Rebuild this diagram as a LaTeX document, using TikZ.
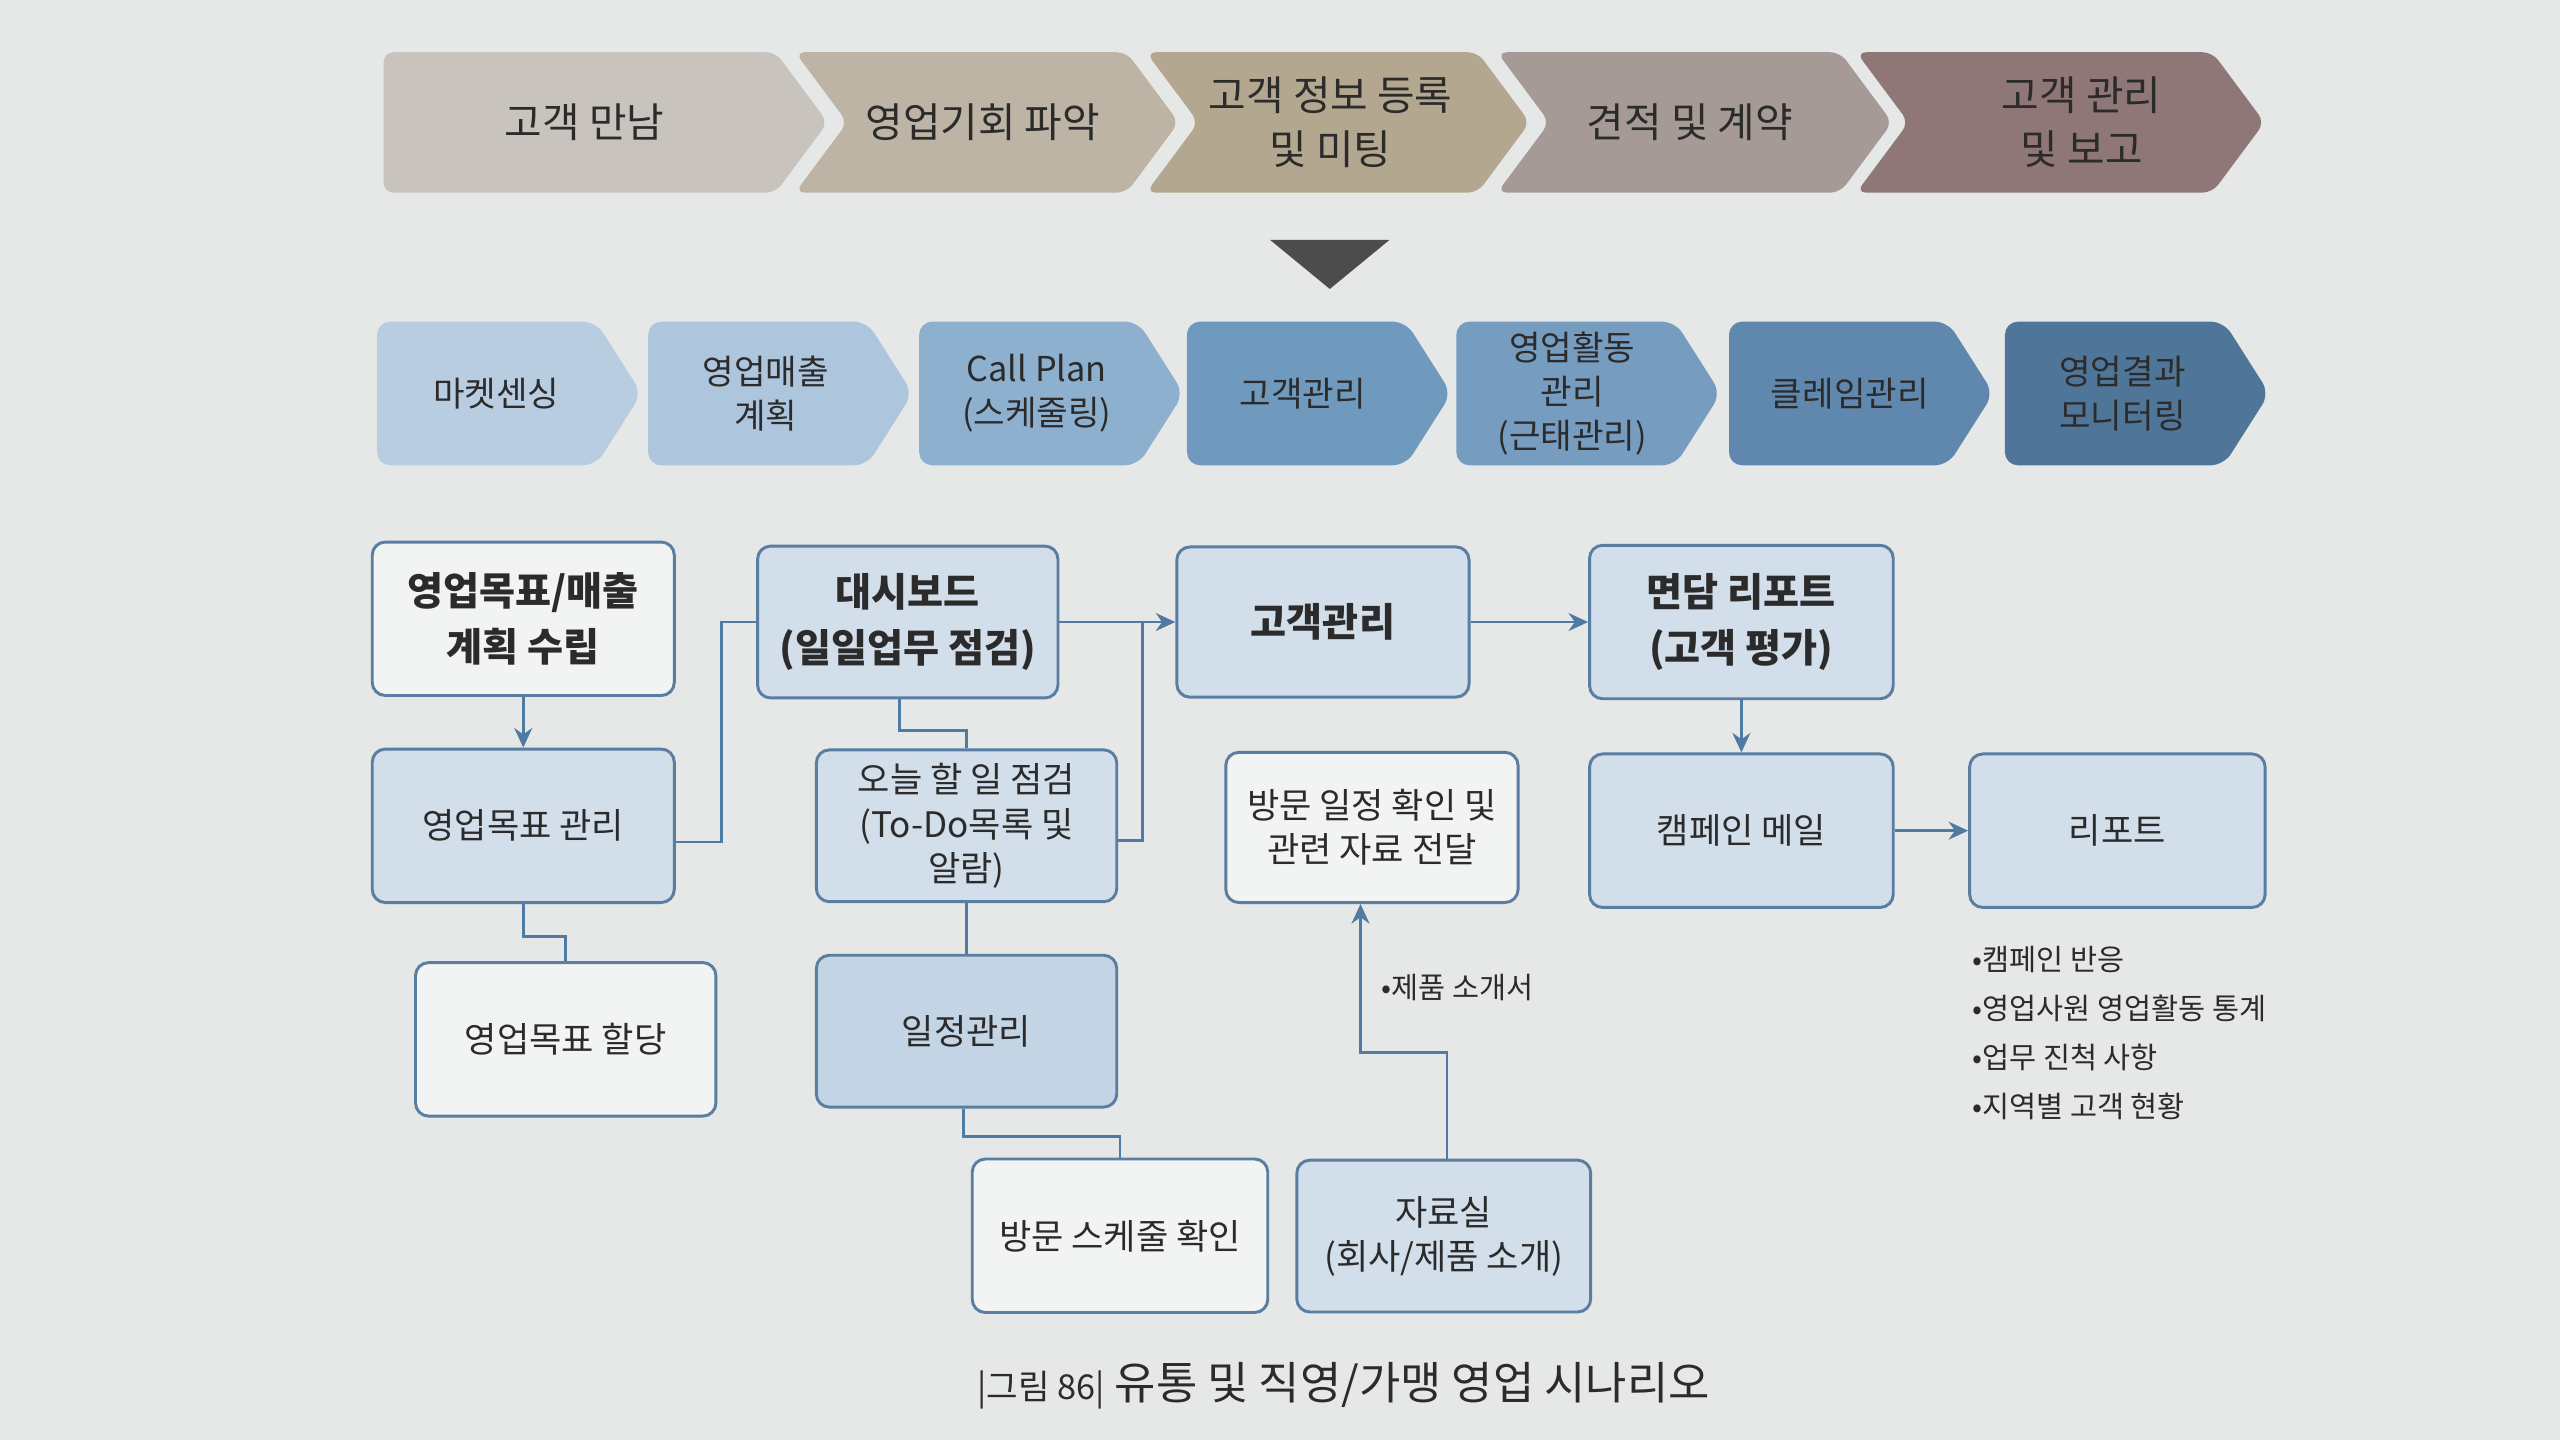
\documentclass[tikz,border=0pt]{standalone}
\usepackage{fontspec}
\setmainfont{Noto Sans CJK KR}
\usetikzlibrary{positioning,arrows.meta}

\definecolor{bgpage}{HTML}{E6E7E7}
\definecolor{ink}{HTML}{2B2B2B}
\definecolor{lineblue}{HTML}{4F7AA3}
\definecolor{boxborder}{HTML}{5A7EA1}
\definecolor{boxfill}{HTML}{D2DEEA}
\definecolor{boxfilldark}{HTML}{C3D4E5}
\definecolor{boxwhite}{HTML}{F2F3F3}
\definecolor{stageA}{HTML}{C8C3BC}
\definecolor{stageB}{HTML}{BEB4A5}
\definecolor{stageC}{HTML}{B3A78F}
\definecolor{stageD}{HTML}{A59A95}
\definecolor{stageE}{HTML}{8E7776}
\definecolor{subA}{HTML}{B9CDE0}
\definecolor{subB}{HTML}{ADC6DD}
\definecolor{subC}{HTML}{8EB0CF}
\definecolor{subD}{HTML}{7099BE}
\definecolor{subE}{HTML}{769DC0}
\definecolor{subF}{HTML}{6088AF}
\definecolor{subG}{HTML}{4F7699}

\tikzset{
  box/.style={draw=boxborder,line width=1.8pt,rounded corners=8pt,fill=boxfill,
    text=ink,align=center,inner sep=0pt,minimum width=184pt,minimum height=93pt,
    font=\fontsize{21.5}{27}\selectfont},
  whitebox/.style={box,fill=boxwhite},
  headbox/.style={box,font=\fontsize{24}{34}\selectfont\bfseries},
  link/.style={draw=lineblue,line width=1.6pt},
  linkarrow/.style={link,-{Stealth[length=12pt,width=11pt]}},
  chevtext/.style={text=ink,align=center,inner sep=0pt},
  note/.style={text=ink,align=left,inner sep=0pt,font=\fontsize{18}{30}\selectfont},
}

\begin{document}
\begin{tikzpicture}[x=1pt,y=-1pt]
  \fill[bgpage] (0,0) rectangle (1568,882);
  \useasboundingbox (0,0) rectangle (1568,882);

  % process stages
  \foreach \l/\r/\n/\c/\tx/\t [count=\i] in {235/475/0/stageA/358/{고객 만남},
      487/690/32/stageB/602/{영업기회 파악},
      702/905/32/stageC/815/{고객 정보 등록\\및 미팅},
      917/1127/32/stageD/1035/{견적 및 계약},
      1137/1355/32/stageE/1275/{고객 관리\\및 보고}} {
    \fill[\c,rounded corners=6pt] (\l,32) -- (\r,32) -- (\r+32,75) -- (\r,118) -- (\l,118) -- (\l+\n,75) -- cycle;
    \node[chevtext,font=\fontsize{25}{33}\selectfont] (stage\i) at (\tx,75) {\t};
  }

  \fill[black!70] (778,147) -- (851,147) -- (814.5,177) -- cycle;

  % sub functions
  \foreach \l/\c/\tx/\t [count=\i] in {231/subA/304/{마켓센싱},
      397/subB/469/{영업매출\\계획},
      563/subC/635/{Call Plan\\(스케줄링)},
      727/subD/798/{고객관리},
      892/subE/963/{영업활동\\관리\\(근태관리)},
      1059/subF/1133/{클레임관리},
      1228/subG/1300/{영업결과\\모니터링}} {
    \fill[\c,rounded corners=8pt] (\l,197) -- (\l+134,197) -- (\l+162,241) -- (\l+134,285) -- (\l,285) -- cycle;
    \node[chevtext,font=\fontsize{21}{27}\selectfont] (sub\i) at (\tx,241) {\t};
  }

  % boxes
  \node[headbox,fill=boxwhite,minimum width=185pt,minimum height=94pt] (goal) at (320.5,379) {영업목표/매출\\계획 수립};
  \node[box,minimum width=185pt,minimum height=94pt,below=31pt of goal] (goalmgmt) {영업목표 관리};
  \node[whitebox,minimum height=94pt,below=35pt of goalmgmt,xshift=26pt] (assign) {영업목표 할당};
  \node[headbox] (dash) at (556,381) {대시보드\\(일일업무 점검)};
  \node[box,below=30pt of dash,xshift=36pt] (todo) {오늘 할 일 점검\\(To-Do목록 및\\알람)};
  \node[box,fill=boxfilldark,below=31pt of todo] (sched) {일정관리};
  \node[whitebox,minimum width=181pt,minimum height=94pt,below=30pt of sched,xshift=94pt] (visit) {방문 스케줄 확인};
  \node[headbox,minimum width=179pt,minimum height=92pt,right=71pt of dash] (cust) {고객관리};
  \node[whitebox,minimum width=179pt,minimum height=92pt,below=32pt of cust,xshift=30pt] (deliver) {방문 일정 확인 및\\관련 자료 전달};
  \node[box,minimum width=180pt,below=156pt of deliver,xshift=44pt] (library) {자료실\\(회사/제품 소개)};
  \node[headbox,minimum width=186pt,minimum height=94pt,right=72pt of cust] (meet) {면담 리포트\\(고객 평가)};
  \node[box,minimum width=186pt,minimum height=94pt,below=32pt of meet] (mail) {캠페인 메일};
  \node[box,minimum width=181pt,minimum height=94pt,right=45pt of mail] (report) {리포트};

  \node[note,anchor=west] (reportnote) at (1208,632.6) {•캠페인 반응\\•영업사원 영업활동 통계\\•업무 진척 사항\\•지역별 고객 현황};
  \node[note,anchor=west] (brochure) at (846,605) {•제품 소개서};

  % connectors
  \draw[linkarrow] (goal) -- (goalmgmt);
  \draw[link] ([yshift=-10pt]goalmgmt.east) -- ++(28,0) |- (dash.west);
  \draw[link] (goalmgmt.south) -- ++(0,20) -| (assign.north);
  \draw[linkarrow] (dash.east) -- (dash.east -| cust.west);
  \draw[link] ([xshift=-5pt]dash.south) -- ++(0,19) -| (todo.north);
  \coordinate (todojoin) at ([xshift=15pt,yshift=-9pt]todo.east);
  \draw[link] ([yshift=-9pt]todo.east) -- (todojoin) -- (todojoin |- dash.east);
  \draw[link] (todo) -- (sched);
  \draw[link] ([xshift=-2pt]sched.south) -- ++(0,17) -| (visit.north);
  \draw[linkarrow] ([xshift=2pt]library.north) -- ++(0,-65) -| ([xshift=-7pt]deliver.south);
  \draw[linkarrow] (cust.east) -- (cust.east -| meet.west);
  \draw[linkarrow] (meet) -- (mail);
  \draw[linkarrow] (mail.east) -- (mail.east -| report.west);

  \node[text=ink,inner sep=0pt] (caption) at (823,849)
    {{\fontsize{21}{21}\selectfont |그림 86|}\hspace{6pt}{\fontsize{27.5}{27.5}\selectfont 유통 및 직영/가맹 영업 시나리오}};
\end{tikzpicture}
\end{document}
